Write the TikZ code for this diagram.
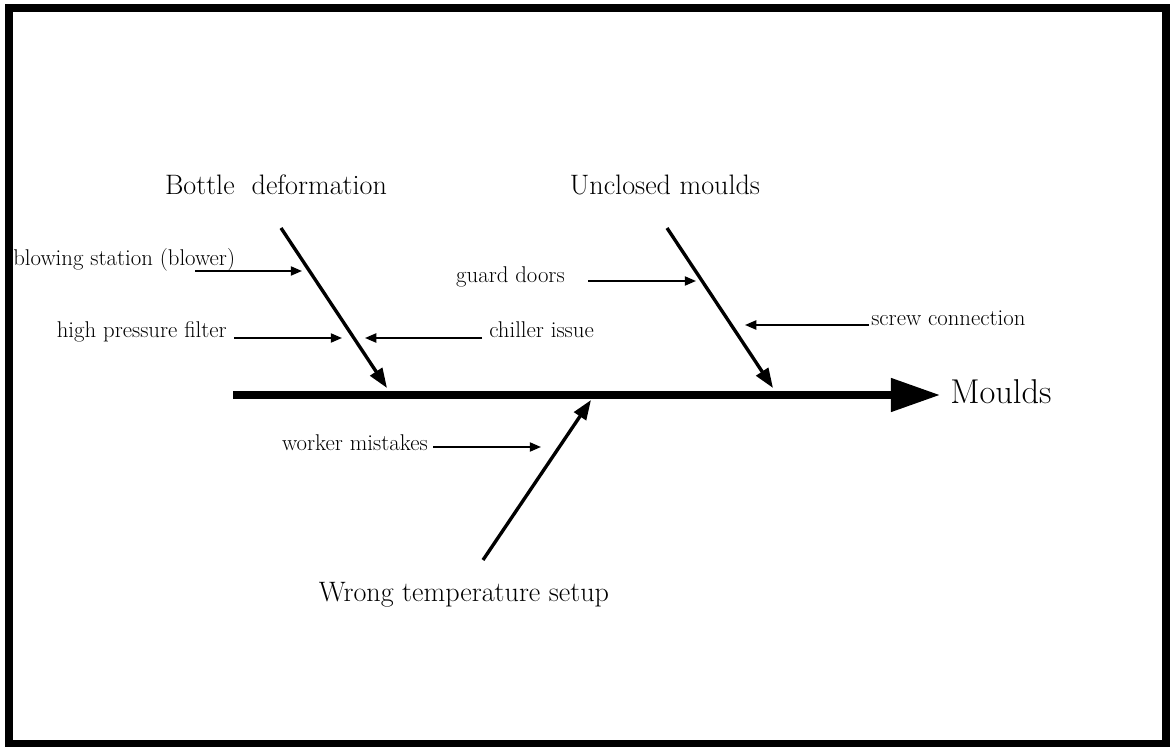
\documentclass[tikz,border=0pt]{standalone}
\usetikzlibrary{arrows.meta}
\begin{document}
\begin{tikzpicture}[x=0.025cm, y=-0.025cm,
  frame/.style={line width=5.7pt, draw=black},
  spine/.style={line width=5pt, -{Triangle[length=35pt, width=23pt]}},
  bone/.style={line width=2.4pt, -{Triangle[length=14pt, width=10pt]}},
  cause/.style={line width=1.3pt, -{Triangle[length=8pt, width=6.5pt]}},
  bigtxt/.style={inner sep=0pt, anchor=base, font=\fontsize{20}{24}\selectfont},
  headtxt/.style={inner sep=0pt, anchor=base west, font=\fontsize{24.5}{29}\selectfont},
  smalltxt/.style={inner sep=0pt, anchor=base, font=\fontsize{16.2}{19}\selectfont}]

  \useasboundingbox (0,0) rectangle (1170,747);
  \fill[white] (0,0) rectangle (1170,747);
  \draw[frame] (9,8) rectangle (1166,744.5);

  % spine and head
  \coordinate (spineL) at (233,395);
  \coordinate (spineR) at (940,395);
  \draw[spine] (spineL) -- (spineR);
  \node[headtxt] (head) at (950,403) {Moulds};

  % main bones
  \coordinate (b1s) at (281,228);  \coordinate (b1e) at (387,388);
  \coordinate (b2s) at (667,228);  \coordinate (b2e) at (773,388);
  \coordinate (b3s) at (483,560);  \coordinate (b3e) at (591,400);
  \draw[bone] (b1s) -- (b1e);
  \draw[bone] (b2s) -- (b2e);
  \draw[bone] (b3s) -- (b3e);

  \node[bigtxt] (cat1) at (276,195) {Bottle\ \ deformation};
  \node[bigtxt] (cat2) at (665,195) {Unclosed moulds};
  \node[bigtxt] (cat3) at (464,601) {Wrong temperature setup};

  % causes
  \node[smalltxt, anchor=base west] (c1) at (13,266) {blowing station (blower)};
  \node[smalltxt, anchor=base east] (c2) at (227,338) {high pressure filter};
  \node[smalltxt, anchor=base west] (c3) at (489,338) {chiller issue};
  \node[smalltxt, anchor=base east] (c4) at (565,283) {guard doors};
  \node[smalltxt, anchor=base west] (c5) at (871,326) {screw connection};
  \node[smalltxt, anchor=base east] (c6) at (428,450) {worker mistakes};

  \coordinate (c1t) at (195,271); \coordinate (c1h) at (302,271);
  \coordinate (c2t) at (234,338); \coordinate (c2h) at (342,338);
  \coordinate (c3t) at (482,338); \coordinate (c3h) at (365,338);
  \coordinate (c4t) at (588,281); \coordinate (c4h) at (696,281);
  \coordinate (c5t) at (869,325); \coordinate (c5h) at (745,325);
  \coordinate (c6t) at (433,447); \coordinate (c6h) at (541,447);

  \draw[cause] (c1t) -- (c1h);
  \draw[cause] (c2t) -- (c2h);
  \draw[cause] (c3t) -- (c3h);
  \draw[cause] (c4t) -- (c4h);
  \draw[cause] (c5t) -- (c5h);
  \draw[cause] (c6t) -- (c6h);
\end{tikzpicture}
\end{document}
